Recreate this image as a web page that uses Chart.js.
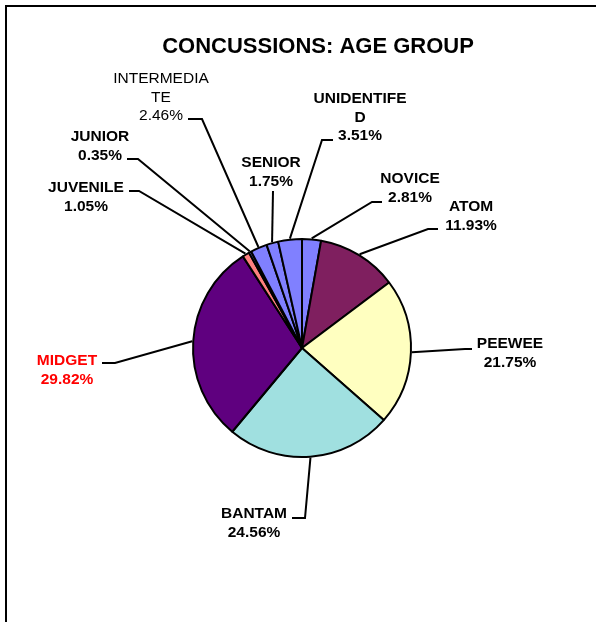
<!DOCTYPE html>
<html>
<head>
<meta charset="utf-8">
<script src="https://cdn.jsdelivr.net/npm/chart.js@4/dist/chart.umd.min.js"></script>
<style>
  html, body { margin: 0; padding: 0; background: #fff; }
  canvas { display: block; }
</style>
</head>
<body>
<canvas id="agechart" width="596" height="622"></canvas>
<script>
// data (percent of concussions)
const categories = ['NOVICE', 'ATOM', 'PEEWEE', 'BANTAM', 'MIDGET', 'JUVENILE', 'JUNIOR', 'INTERMEDIATE', 'SENIOR', 'UNIDENTIFED'];
const percents = [2.81, 11.93, 21.75, 24.56, 29.82, 1.05, 0.35, 2.46, 1.75, 3.51];
const sliceColors = ['#8080FF', '#7F1F5F', '#FFFFC0', '#A0E0E0', '#5F007F', '#FF8080', '#8080FF', '#8080FF', '#8080FF', '#8080FF'];
const titleText = 'CONCUSSIONS: AGE GROUP';

// where Excel put the labels, as offsets from the pie centre
// [text x, first baseline y, elbow x, elbow y, line end x, line end y]
const labelSpots = [
    [108, -165, 70, -146, 80, -146],
    [169, -137, 126, -119, 136, -119],
    [208, 0, 163, 1, 170, 1],
    [-48, 170, 3, 170, -10, 170],
    [-235, 17, -187, 15, -200, 15],
    [-216, -156, -163, -157, -173, -157],
    [-202, -207, -164, -189, -175, -189],
    [-141, -265, -100, -229, -114, -229],
    [-31, -181, -29, -157, -29, -157],
    [58, -245, 20, -208, 31, -208]
];
const labelColors = ['#000', '#000', '#000', '#000', '#FF0000', '#000', '#000', '#000', '#000', '#000'];
const labelBold = [true, true, true, true, true, true, true, false, true, true];

const FONT = '"Liberation Sans", Arial, sans-serif';

function wrapName(name){
    let out = [];
    for (let i = 0; i < name.length; i += 10) out.push(name.slice(i, i + 10));
    return out;
}

const leaderLabels = {
    id: 'leaderLabels',
    beforeDraw(chart){
        const ctx = chart.ctx;
        ctx.save();
        ctx.strokeStyle = '#000';
        ctx.lineWidth = 2;
        ctx.strokeRect(6, 6, 700, 800);
        ctx.restore();
    },
    afterDraw(chart){
        const ctx = chart.ctx;
        const arcs = chart.getDatasetMeta(0).data;
        ctx.save();
        // title
        ctx.fillStyle = '#000';
        ctx.font = 'bold 22px ' + FONT;
        ctx.textAlign = 'center';
        ctx.textBaseline = 'alphabetic';
        ctx.fillText(titleText, 318, 53);

        arcs.forEach((arc, i) => {
            const {x, y, startAngle, endAngle, outerRadius} = arc.getProps(['x', 'y', 'startAngle', 'endAngle', 'outerRadius'], true);
            const mid = (startAngle + endAngle) / 2;
            const r = outerRadius + 1;
            const sx = x + Math.cos(mid) * r, sy = y + Math.sin(mid) * r;
            const s = labelSpots[i];
            ctx.strokeStyle = '#000';
            ctx.lineWidth = 2;
            ctx.beginPath();
            ctx.moveTo(sx, sy);
            ctx.lineTo(x + s[2], y + s[3]);
            ctx.lineTo(x + s[4], y + s[5]);
            ctx.stroke();

            const lines = wrapName(categories[i]).concat([percents[i].toFixed(2) + '%']);
            ctx.fillStyle = labelColors[i];
            ctx.font = (labelBold[i] ? 'bold ' : '') + '15.5px ' + FONT;
            ctx.textAlign = 'center';
            lines.forEach((t, k) => ctx.fillText(t, x + s[0], y + s[1] + k * 18.5));
        });
        ctx.restore();
    }
};

new Chart(document.getElementById('agechart'), {
    type: 'pie',
    data: {
        labels: categories,
        datasets: [{
            data: percents,
            backgroundColor: sliceColors,
            borderColor: '#000',
            borderWidth: 2
        }]
    },
    options: {
        responsive: false,
        animation: false,
        devicePixelRatio: 1,
        radius: 109,
        layout: { padding: { left: 100, right: 92, top: 200, bottom: 126 } },
        plugins: {
            legend: { display: false },
            tooltip: { enabled: false }
        }
    },
    plugins: [leaderLabels]
});
</script>
</body>
</html>
